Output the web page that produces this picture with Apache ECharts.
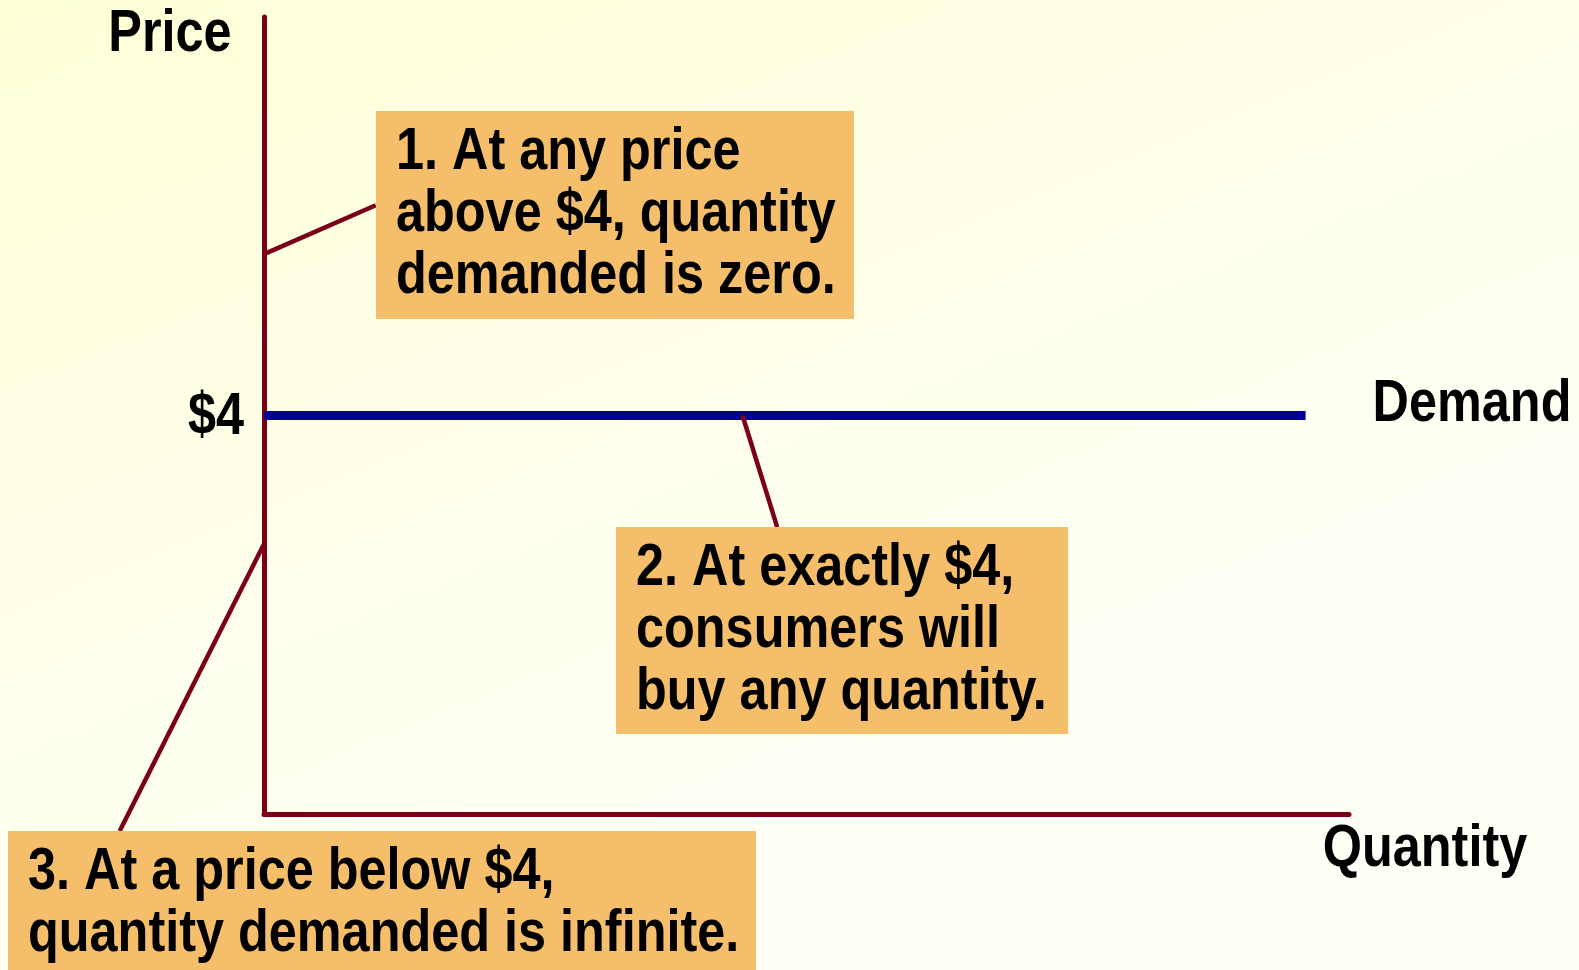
<!DOCTYPE html>
<html>
<head>
<meta charset="utf-8">
<script src="https://cdn.jsdelivr.net/npm/echarts@6/dist/echarts.min.js"></script>
<style>
html,body{margin:0;padding:0;width:1579px;height:970px;overflow:hidden;}
#c{width:1579px;height:970px;}
</style>
</head>
<body>
<div id="c"></div>
<script>
// ---- data ----
const priceLevel = 4;
const demandLine = [[0, 4], [96, 4]];
const yLabelText = '$4';
const callout1 = [[0, 5.62], [10.3, 6.11]];
const callout2 = [[44.1, 4.0], [47.3, 2.88]];
const callout3 = [[0, 2.71], [-13.3, -0.17]];
const noteTexts = [
  '1. At any price\nabove $4, quantity\ndemanded is zero.',
  '2. At exactly $4,\nconsumers will\nbuy any quantity.',
  '3. At a price below $4,\nquantity demanded is infinite.'
];
const axisNames = { y: 'Price', x: 'Quantity', demand: 'Demand' };

const FONT = '"Liberation Sans Narrow", "Arial Narrow", "Liberation Sans", Arial, sans-serif';
const NARROW = 0.84;
const AXIS_COLOR = '#7b0017';
const BOX_COLOR = '#f4be6a';

const chart = echarts.init(document.getElementById('c'));

function narrowText(x, y, text, align, vAlign) {
  return {
    type: 'text', x: x, y: y, scaleX: NARROW, z: 11,
    style: { text: text, fill: '#000', font: 'bold 60px ' + FONT, lineHeight: 62,
             align: align || 'left', verticalAlign: vAlign || 'top' }
  };
}

function noteBox(x, y, w, h, text, tx, ty) {
  return {
    type: 'group',
    children: [
      { type: 'rect', shape: { x: x, y: y, width: w, height: h }, style: { fill: BOX_COLOR }, z: 10 },
      narrowText(tx, ty, text)
    ]
  };
}

chart.setOption({
  animation: false,
  backgroundColor: {
    type: 'linear', x: 0, y: 0, x2: 0.25, y2: 1,
    colorStops: [
      { offset: 0, color: '#ffffd6' },
      { offset: 0.5, color: '#ffffe8' },
      { offset: 1, color: '#fffff6' }
    ]
  },
  grid: { left: 264, top: 17, right: 230, bottom: 156 },
  xAxis: {
    type: 'value', min: 0, max: 100,
    axisLine: { show: true, lineStyle: { color: AXIS_COLOR, width: 5 } },
    axisTick: { show: false }, axisLabel: { show: false }, splitLine: { show: false }
  },
  yAxis: {
    type: 'value', min: 0, max: 8, interval: 4,
    axisLine: { show: true, lineStyle: { color: AXIS_COLOR, width: 5 } },
    axisTick: { show: false }, splitLine: { show: false }, axisLabel: { show: false }
  },
  series: [
    {
      type: 'line', data: demandLine, symbol: 'none', silent: true, z: 4,
      lineStyle: { color: '#000099', width: 9 }
    }
  ]
});

function px(p) { return chart.convertToPixel({ gridIndex: 0 }, p); }
function calloutLine(pts) {
  const a = px(pts[0]), b = px(pts[1]);
  return { type: 'line', z: 9, silent: true,
    shape: { x1: a[0], y1: a[1], x2: b[0], y2: b[1] },
    style: { stroke: AXIS_COLOR, lineWidth: 4.5 } };
}

const tickPx = px([0, priceLevel]);
const endPx = px(demandLine[demandLine.length - 1]);

chart.setOption({
  graphic: [
    calloutLine(callout1),
    calloutLine(callout2),
    calloutLine(callout3),
    narrowText(170, 34, axisNames.y, 'center', 'middle'),
    narrowText(1425, 849, axisNames.x, 'center', 'middle'),
    narrowText(tickPx[0] - 20, tickPx[1] + 2, yLabelText, 'right', 'middle'),
    narrowText(endPx[0] + 67, endPx[1] - 11, axisNames.demand, 'left', 'middle'),
    noteBox(376, 111, 478, 208, noteTexts[0], 396, 121),
    noteBox(616, 527, 452, 207, noteTexts[1], 636, 537),
    noteBox(8, 831, 748, 139, noteTexts[2], 28, 841)
  ]
});
</script>
</body>
</html>
